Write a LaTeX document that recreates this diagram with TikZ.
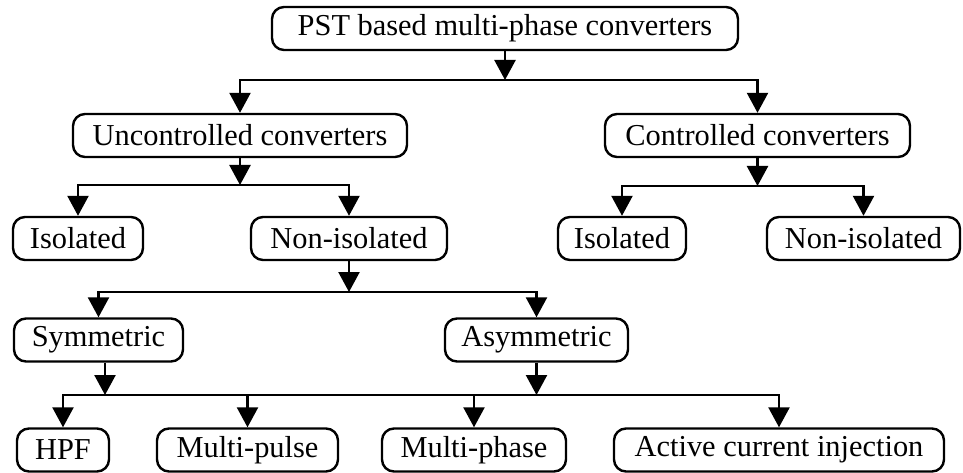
\documentclass[tikz,border=0pt]{standalone}
\usepackage{fontspec}
\setmainfont{Liberation Serif}
\usetikzlibrary{arrows.meta}

\begin{document}
\begin{tikzpicture}[x=1pt,y=-1pt,line width=2.4pt,
    font=\fontsize{30.4}{36}\selectfont,
    box/.style={draw,rounded corners=12pt,minimum height=43pt,inner sep=0pt},
    arr/.style={-{Triangle[length=20pt,width=21pt]}}]
    \useasboundingbox (0,0) rectangle (963,473);
    % root
    \node[box,minimum width=466pt] (pst) at (505,28.5) {PST based multi-phase converters};
    % first level
    \node[box,minimum width=334pt] (unc) at (240,135.5) {Uncontrolled converters};
    \node[box,minimum width=305pt] (con) at (757.5,135.5) {Controlled converters};
    % second level
    \node[box,minimum width=130pt] (isoa) at (78,238.5) {Isolated};
    \node[box,minimum width=196pt] (nisoa) at (349,238.5) {Non-isolated};
    \node[box,minimum width=128pt] (isob) at (622,238.5) {Isolated};
    \node[box,minimum width=193pt] (nisob) at (863.5,238.5) {Non-isolated};
    % third level
    \node[box,minimum width=169pt] (sym) at (98.5,340) {Symmetric};
    \node[box,minimum width=183pt] (asym) at (536.5,340) {Asymmetric};
    % fourth level
    \node[box,minimum width=92pt] (hpf) at (63,450) {HPF};
    \node[box,minimum width=181pt] (mpul) at (247.5,450) {Multi-pulse};
    \node[box,minimum width=184pt] (mpha) at (474,450) {Multi-phase};
    \node[box,minimum width=330pt] (aci) at (779,450) {Active current injection};
    % junctions
    \coordinate (j1) at (pst.south |- 0,80);
    \coordinate (j2) at (unc.south |- 0,185);
    \coordinate (j3) at (con.south |- 0,186);
    \coordinate (j4) at (nisoa.south |- 0,292);
    \coordinate (j5) at (105,395);
    \coordinate (j6) at (asym.south |- 0,395);
    % connectors
    \draw[arr] (pst) -- (j1);
    \draw[arr] (j1) -| (unc);
    \draw[arr] (j1) -| (con);
    \draw[arr] (unc) -- (j2);
    \draw[arr] (j2) -| (isoa);
    \draw[arr] (j2) -| (nisoa);
    \draw[arr] (con) -- (j3);
    \draw[arr] (j3) -| (isob);
    \draw[arr] (j3) -| (nisob);
    \draw[arr] (nisoa) -- (j4);
    \draw[arr] (j4) -| (sym);
    \draw[arr] (j4) -| (asym);
    \draw[arr] (sym.south -| j5) -- (j5);
    \draw[arr] (asym) -- (j6);
    \draw (j5) -- (j6);
    \draw[arr] (j5) -| (hpf);
    \draw[arr] (j5) -| (mpul);
    \draw[arr] (j6) -| (mpha);
    \draw[arr] (j6) -| (aci);
\end{tikzpicture}
\end{document}
